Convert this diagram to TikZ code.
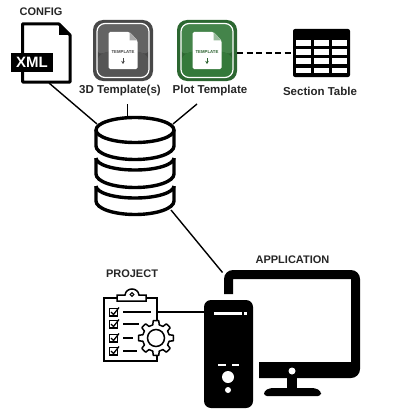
\documentclass[tikz,border=0pt]{standalone}
\usepackage{fontspec}
\setmainfont{Liberation Sans}
\usetikzlibrary{calc,arrows.meta}

\tikzset{
  label text/.style={font=\bfseries\fontsize{11.5}{13}\selectfont, inner sep=0pt, text=black!85},
  caps text/.style={label text, font=\bfseries\fontsize{11}{13}\selectfont},
  wire/.style={draw, line width=1.4pt},
  heavy/.style={line width=3.4pt, line join=round},
  thin box/.style={line width=1.5pt, draw=black, fill=white},
  spot/.style={circle, fill=white, inner sep=0pt},
  place/.style={inner sep=0pt, outer sep=0pt}
}
\newcommand{\templateicon}[4]{%
  \node[place, minimum width=60pt, minimum height=61pt, rounded corners=10pt, fill=#2!85!black] (#1) at (#3,#4) {};
  \fill[#2!92!white, rounded corners=7pt] (#3-26,#4+5) .. controls (#3-10,#4-1) and (#3+10,#4-1) .. (#3+26,#4+5) -- (#3+26,#4-27) -- (#3-26,#4-27) -- cycle;
  \fill[#2, rounded corners=7pt] (#3-26,#4+5) .. controls (#3-10,#4-1) and (#3+10,#4-1) .. (#3+26,#4+5) -- (#3+26,#4+27) -- (#3-26,#4+27) -- cycle;
  \draw[white, line width=1.2pt, rounded corners=8pt] (#3-26,#4-27) rectangle (#3+26,#4+27);
  \fill[white, rounded corners=1.5pt] (#3-14.5,#4-18.5) -- (#3+6.5,#4-18.5) -- (#3+14.5,#4-10) -- (#3+14.5,#4+18.5) -- (#3-14.5,#4+18.5) -- cycle;
  \fill[#2!50!white] (#3+6.5,#4-18.5) -- (#3+14.5,#4-10) -- (#3+6.5,#4-10) -- cycle;
  \node[place, font=\bfseries\fontsize{4.3}{5}\selectfont, text=#2!80!black] at (#3,#4+1.5) {TEMPLATE};
  \draw[#2!80!black, line width=0.6pt, -{Stealth[length=3pt, width=3.5pt]}] (#3,#4+8) -- (#3,#4+13.5);
}

\begin{document}
\begin{tikzpicture}[x=1pt, y=-1pt]
\useasboundingbox (0,0) rectangle (405,420);

\node[caps text] (configlabel) at (41,12) {CONFIG};
\node[label text] (threedlabel) at (120,91) {3D Template(s)};
\node[label text] (plotlabel) at (210,91) {Plot Template};
\node[label text] (tablelabel) at (320,91) {Section Table};
\node[caps text] (projectlabel) at (132,274) {PROJECT};
\node[caps text] (applabel) at (292.5,260) {APPLICATION};

\node[place, minimum width=49pt, minimum height=60pt] (config) at (46.5,53) {};
\draw[heavy, line width=3pt, miter limit=2] (22.5,53) -- (22.5,24) -- (59,24) -- (70,35) -- (70,82) -- (22.5,82) -- (22.5,72);
\fill (59,24) -- (70,35) -- (59,35) -- cycle;
\node[place, fill=black, text=white, minimum width=42pt, minimum height=19pt, font=\bfseries\fontsize{15}{15}\selectfont] (xml) at (32,62.5) {XML};

\definecolor{grayicon}{HTML}{555555}
\definecolor{greenicon}{HTML}{34793A}
\templateicon{threed}{grayicon}{123}{50.5}
\templateicon{plot}{greenicon}{207}{50.5}

\node[place, fill=black, rounded corners=2pt, minimum width=57pt, minimum height=48pt] (table) at (321.5,53) {};
\foreach \row in {43,52,61,70.5} {
  \foreach \col in {303,321.5,339} {
    \fill[white] (\col-7.5,\row-2.8) rectangle (\col+7.5,\row+2.8);
  }
}

\node[place, minimum width=80pt, minimum height=98pt] (db) at (135,166) {};
\draw[heavy, fill=white] (96,186) -- (96,201) arc[x radius=39, y radius=13.5, start angle=180, end angle=0] -- (174,186);
\draw[heavy] (96,186) arc[x radius=39, y radius=12, start angle=180, end angle=0];
\draw[heavy, fill=white] (96,158) -- (96,174) arc[x radius=39, y radius=13.5, start angle=180, end angle=0] -- (174,158);
\draw[heavy] (96,158) arc[x radius=39, y radius=12, start angle=180, end angle=0];
\draw[heavy, fill=white] (96,130) -- (96,146) arc[x radius=39, y radius=13.5, start angle=180, end angle=0] -- (174,130);
\draw[heavy] (135,130) ellipse[x radius=39, y radius=12.5];

\node[place, minimum width=53pt, minimum height=63pt] (project) at (130.5,329.5) {};
\draw[thin box, fill=white] (project.south west) rectangle (project.north east);
\draw[thin box] (117,301) -- (117,295) -- (125,295) .. controls (126,287) and (138,287) .. (139,295) -- (146,295) -- (146,301) -- cycle;
\draw[line width=1pt] (132,294.5) circle[radius=1.8];
\foreach \row/\len in {312/151, 324/139, 338/133, 351/137} {
  \draw[line width=1.4pt] (109.5,\row-3.5) rectangle (117.5,\row+4);
  \draw[line width=1.3pt] (111,\row) -- (113.5,\row+2.5) -- (119,\row-4.5);
  \draw[line width=1.3pt] (123,\row) -- (\len,\row);
}
\node[place, circle, minimum size=24pt] (gear) at (156,338) {};
\draw[thin box, shift={(gear.center)}, line join=round] (0:17.5)
  \foreach \a in {0,45,...,315} {
    -- (\a+9:17.5) -- (\a+14:13.5) -- (\a+31:13.5) -- (\a+36:17.5) -- (\a+45:17.5)
  } -- cycle;
\draw[line width=1.5pt] (gear.center) circle[radius=8.5];

\node[place, minimum width=136pt, minimum height=108pt] (monitor) at (292,324) {};
\fill (224,294) [rounded corners=9pt] -- (224,270) -- (360,270) -- (360,378) [sharp corners] -- (259,378) -- (259,362) -- (351,362) -- (351,279) -- (233,279) -- (233,294) -- cycle;
\fill (287,378) rectangle (297,389);
\fill[rounded corners=3pt] (264,396) -- (264,391) -- (270,388) -- (315,388) -- (321,391) -- (321,396) -- cycle;
\node[spot, minimum size=7pt] (monitordot) at (292,371) {};

\node[place, fill=black, rounded corners=7pt, minimum width=49pt, minimum height=108pt] (tower) at (228.5,354) {};
\fill[white] (214,312) rectangle (242,315);
\fill[white] (244,312) rectangle (247,315);
\fill[white] (218,364) rectangle (226,366);
\fill[white] (232,364) rectangle (239,366);
\node[spot, minimum size=12pt] (power) at (228,377) {};
\node[spot, minimum size=6pt] (reset) at (228,390) {};

\coordinate (configout) at (49,83);
\coordinate (dbleft) at (97,124);
\coordinate (threedout) at (127.5,104);
\coordinate (plotout) at (197,104);
\coordinate (dbright) at (173,124);
\coordinate (dbout) at (171,210);
\coordinate (monitorin) at (222.5,272.5);
\coordinate (projectout) at (157,312);
\coordinate (towerin) at (204,312);
\draw[wire] (configout) -- (dbleft);
\draw[wire] (threedout) -- (db.north -| threedout);
\draw[wire] (plotout) -- (dbright);
\draw[wire] (dbout) -- (monitorin);
\draw[wire] (projectout) -- (towerin);
\draw[wire, dashed, dash pattern=on 6pt off 3.5pt, line width=1.6pt] (plot.east |- table.west) -- (table.west);
\end{tikzpicture}
\end{document}
